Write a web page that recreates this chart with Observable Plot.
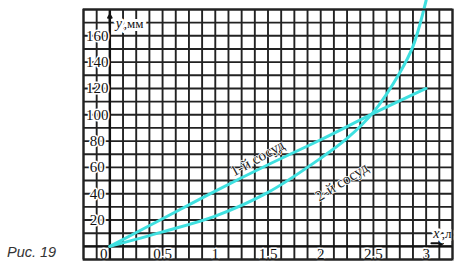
<!DOCTYPE html>
<html>
<head>
<meta charset="utf-8">
<script src="https://cdn.jsdelivr.net/npm/d3@7"></script>
<script src="https://cdn.jsdelivr.net/npm/@observablehq/plot@0.6"></script>
<style>
  html, body { margin: 0; padding: 0; background: #fff; }
  #wrap { position: relative; width: 459px; height: 267px; }
  #caption { position: absolute; left: 7px; top: 244px; font: italic 14.5px "Liberation Sans", Arial, sans-serif; color: #333; }
</style>
</head>
<body>
<div id="wrap"><div id="chart"></div><div id="caption">Рис. 19</div></div>
<script>
// Data
const vessel1X = [0, 0.5, 1, 1.5, 2, 2.5, 3];
const vessel1Y = [0, 21, 42, 62, 81, 101, 120];
const vessel2X = [0, 0.5, 1, 1.5, 2, 2.25, 2.5, 2.75, 2.875, 3];
const vessel2Y = [0, 11, 23, 41, 67, 82, 102, 132, 152, 187];
const xTickLabels = ["0.5", "1", "1.5", "2", "2.5", "3"];
const xTickValues = [0.5, 1, 1.5, 2, 2.5, 3];
const yTickValues = [20, 40, 60, 80, 100, 120, 140, 160];
const seriesNames = ["1-й сосуд", "2-й сосуд"];
const labelX = [1.40, 2.20];
const labelY = [67, 49];
const labelAngle = [-29, -32];
const xDomain = [-0.25, 3.25];
const yDomain = [-10, 180];
const xStep = 0.125, yStep = 10;

const rows = [
  ...vessel1X.map((x, i) => ({series: seriesNames[0], x, y: vessel1Y[i]})),
  ...vessel2X.map((x, i) => ({series: seriesNames[1], x, y: vessel2Y[i]}))
];
const xGrid = d3.range(Math.round((xDomain[1] - xDomain[0]) / xStep) + 1).map(i => xDomain[0] + i * xStep);
const yGrid = d3.range(Math.round((yDomain[1] - yDomain[0]) / yStep) + 1).map(i => yDomain[0] + i * yStep);
const labels = seriesNames.map((name, i) => ({name, x: labelX[i], y: labelY[i], a: labelAngle[i]}));

const gridColor = "#222";
const lineColor = "#3fe0e0";
const serif = "'Liberation Serif', 'Times New Roman', serif";

const chart = Plot.plot({
  width: 459,
  height: 267,
  marginLeft: 83,
  marginRight: 7,
  marginTop: 9,
  marginBottom: 8,
  x: {domain: xDomain, axis: null},
  y: {domain: yDomain, axis: null},
  style: {background: "#fff", fontFamily: serif},
  marks: [
    Plot.ruleX(xGrid, {stroke: gridColor, strokeWidth: 1.9}),
    Plot.ruleY(yGrid, {stroke: gridColor, strokeWidth: 1.9}),
    Plot.ruleX([0], {stroke: "#111", strokeWidth: 2.4}),
    Plot.ruleY([0], {stroke: "#111", strokeWidth: 2.4}),
    Plot.arrow([0], {x1: 0, x2: 0, y1: yDomain[1] - 12, y2: yDomain[1] - 4, stroke: "#111", strokeWidth: 2, headLength: 7}),
    Plot.arrow([0], {x1: xDomain[1] - 0.2, x2: xDomain[1] - 0.09, y1: 0, y2: 0, dy: -3, stroke: "#111", strokeWidth: 2, headLength: 7}),
    // y tick labels
    Plot.text(yTickValues, {x: xDomain[0] + 0.13, y: d => d, text: d => String(d), fontSize: 15, fill: "#111", stroke: "white", strokeWidth: 3}),
    // x tick labels
    Plot.text(xTickValues, {x: d => d, y: -5, text: (d, i) => xTickLabels[i], fontSize: 15, fill: "#111", stroke: "white", strokeWidth: 3, dy: 1}),
    Plot.text([0], {x: d => d, y: -5, text: d => String(d), fontSize: 15, fill: "#111", stroke: "white", strokeWidth: 3, dx: -6, dy: 1}),
    // axis names
    Plot.text([",мм"], {x: 0, y: yDomain[1], text: d => d, frameAnchor: "top", textAnchor: "start", dx: 14, dy: 9, fontSize: 13, fill: "#111", stroke: "white", strokeWidth: 6}),
    Plot.text(["y"], {x: 0, y: yDomain[1], text: d => d, frameAnchor: "top", textAnchor: "start", dx: 6, dy: 9, fontSize: 14, fontStyle: "italic", fill: "#111", stroke: "white", strokeWidth: 5}),
    Plot.text([",л"], {x: xDomain[1], y: 0, text: d => d, textAnchor: "end", dx: -1, dy: -13, fontSize: 13, fill: "#111", stroke: "white", strokeWidth: 6}),
    Plot.text(["x"], {x: xDomain[1], y: 0, text: d => d, textAnchor: "end", dx: -13, dy: -13, fontSize: 14, fontStyle: "italic", fill: "#111", stroke: "white", strokeWidth: 5}),
    // curves
    Plot.line(rows, {x: "x", y: "y", z: "series", stroke: lineColor, strokeWidth: 3, curve: "catmull-rom"}),
    // series labels
    Plot.text(labels, {x: "x", y: "y", text: "name", rotate: d => d.a, fontSize: 15, fill: "#222", stroke: "white", strokeWidth: 1.5, paintOrder: "stroke"}),
    Plot.frame({stroke: gridColor, strokeWidth: 2})
  ]
});
document.getElementById("chart").appendChild(chart);
</script>
</body>
</html>
